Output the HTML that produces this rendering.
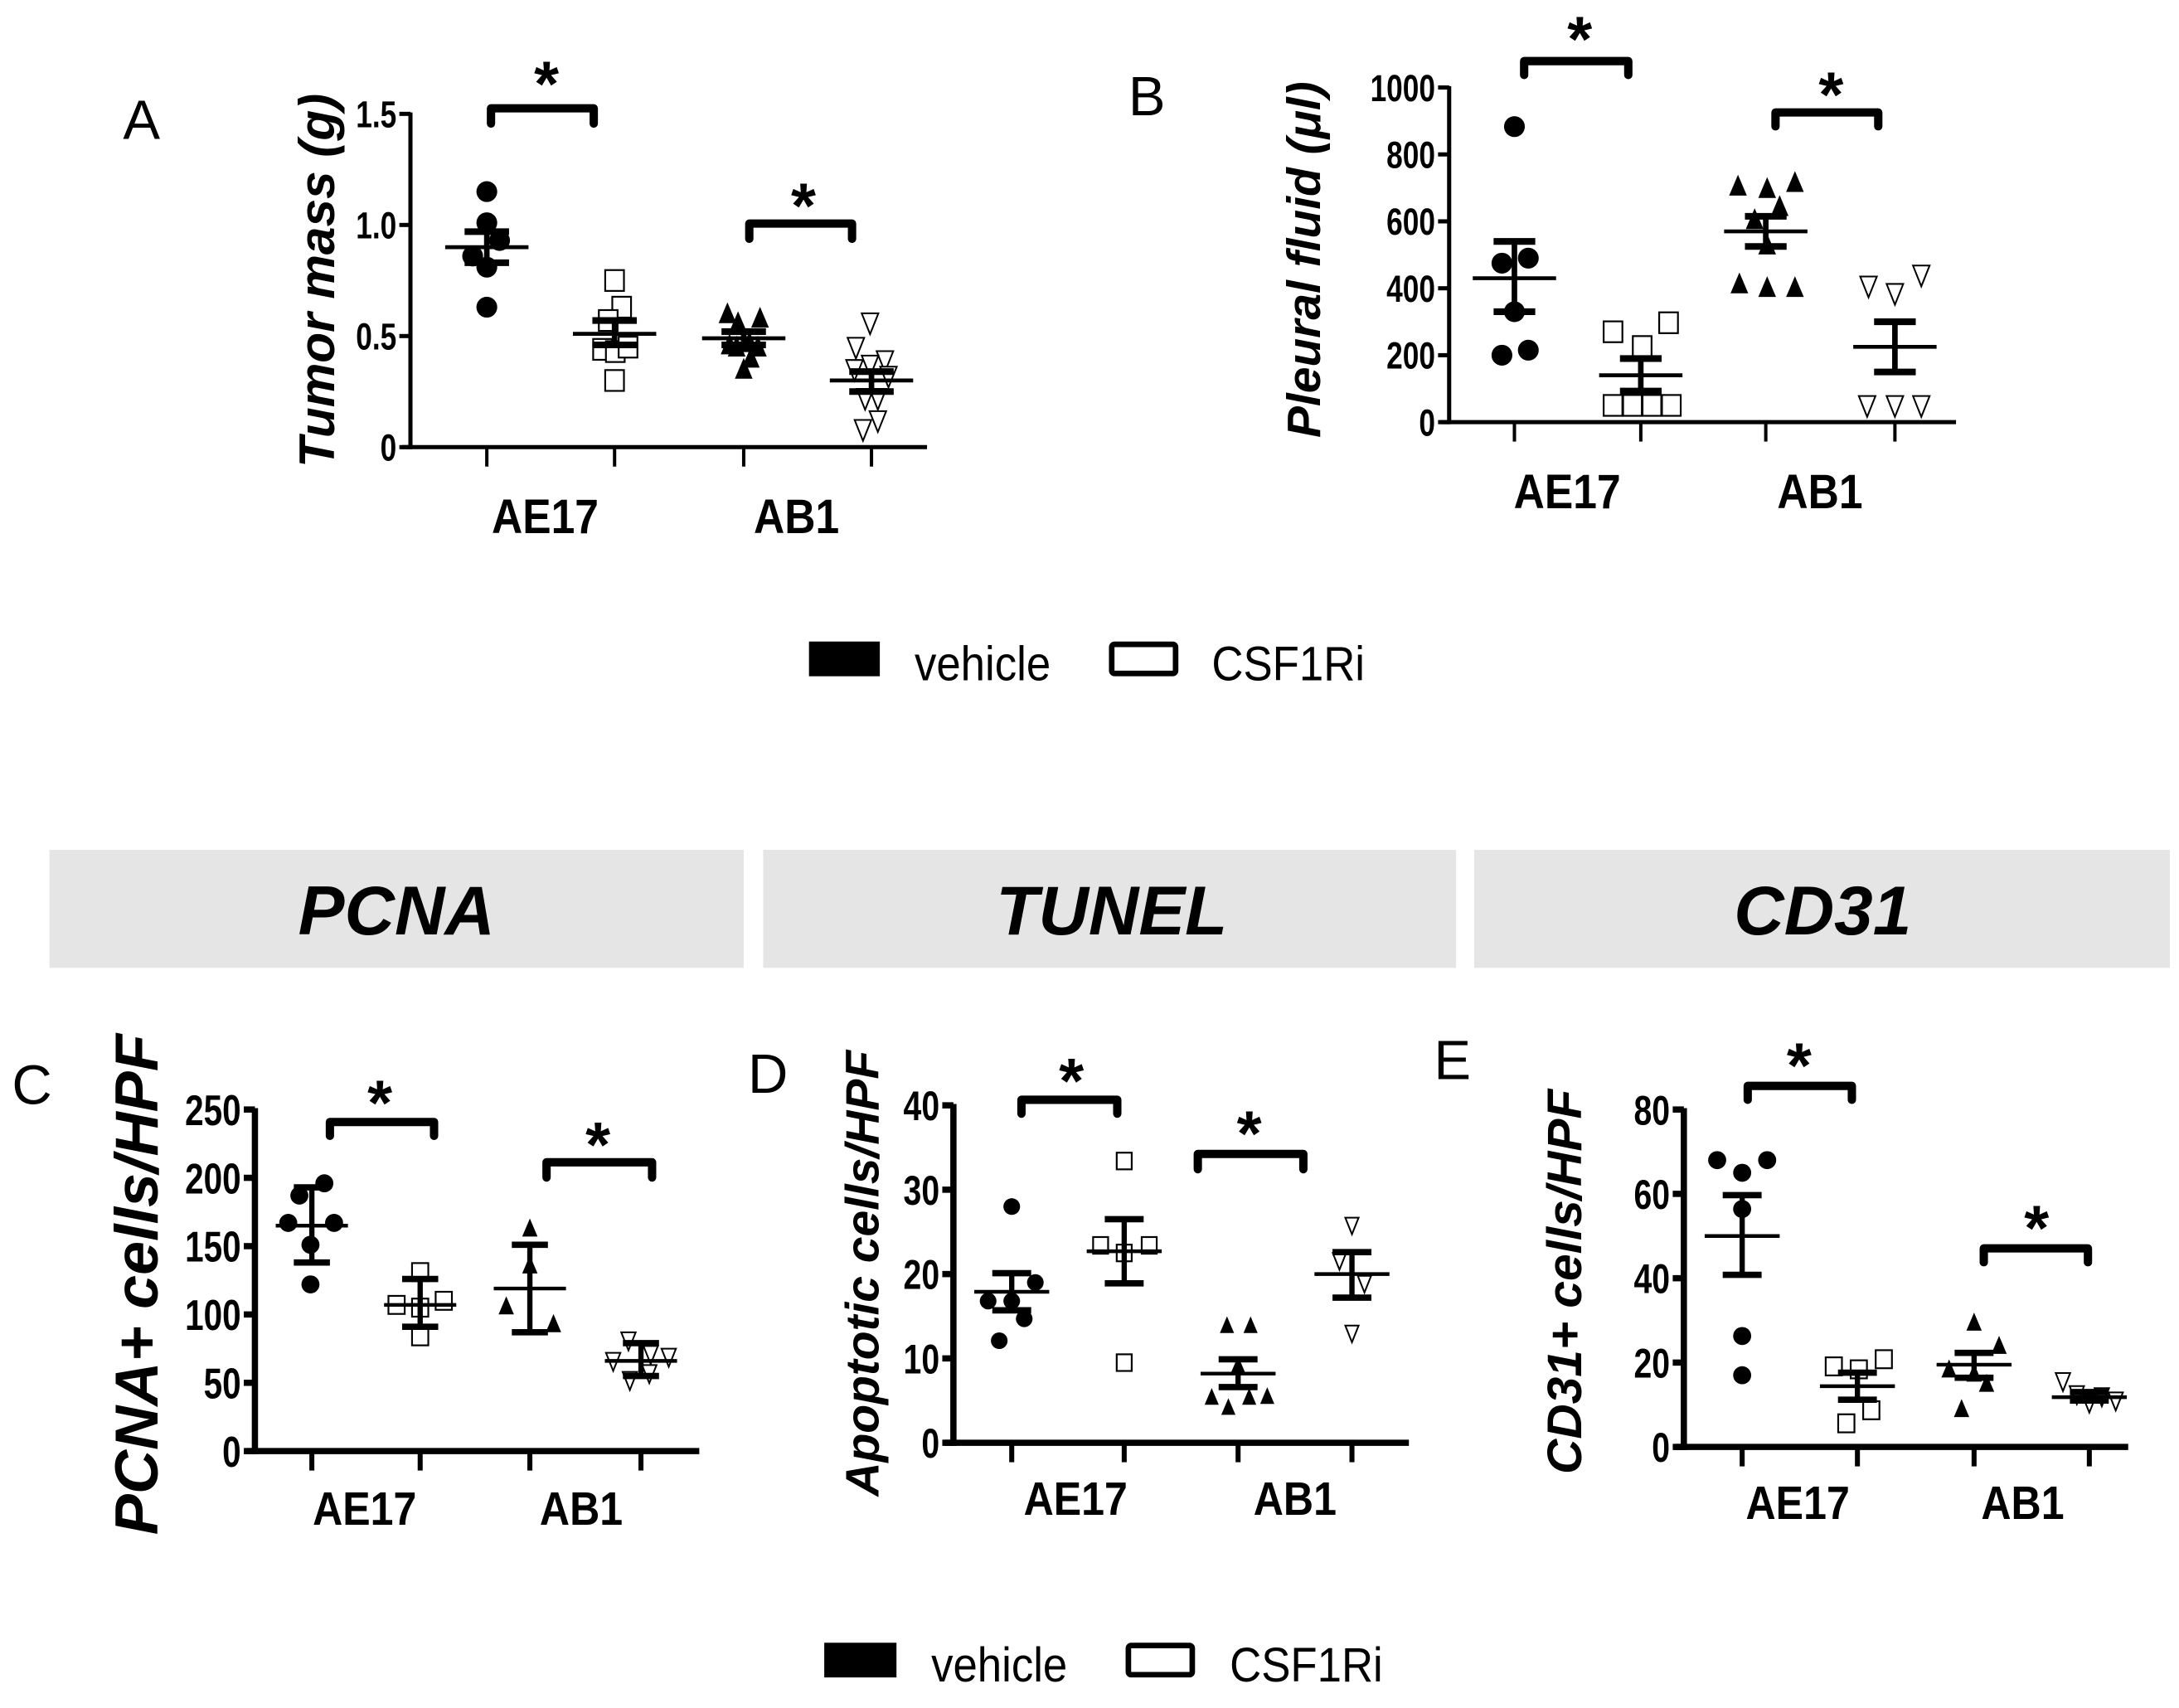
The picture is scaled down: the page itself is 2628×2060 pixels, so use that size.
<!DOCTYPE html>
<html><head><meta charset="utf-8"><style>
html,body{margin:0;padding:0;background:#fff;}
svg{display:block;}
text{font-family:"Liberation Sans",Arial,sans-serif;fill:#000;}
</style></head><body>
<svg id="fig" xmlns="http://www.w3.org/2000/svg" width="2628" height="2060" viewBox="0 0 1568 1230">
<rect x="0" y="0" width="1568" height="1230" fill="#fff"/>
<g>
  <rect x="582" y="462" width="51" height="25" fill="#000"/>
  <text x="0" y="0" font-size="35" transform="translate(658,490) scale(0.9,1)">vehicle</text>
  <rect x="800" y="464" width="46" height="21" rx="2" fill="#fff" stroke="#000" stroke-width="4"/>
  <text x="0" y="0" font-size="35" transform="translate(872,490) scale(0.9,1)">CSF1Ri</text>
</g>
<g>
  <rect x="35" y="612" width="500" height="85" fill="#e5e5e5"/>
  <text x="285" y="673" font-size="50" font-weight="bold" font-style="italic" text-anchor="middle">PCNA</text>
  <rect x="549" y="612" width="499" height="85" fill="#e5e5e5"/>
  <text x="800" y="673" font-size="50" font-weight="bold" font-style="italic" text-anchor="middle">TUNEL</text>
  <rect x="1061" y="612" width="501" height="85" fill="#e5e5e5"/>
  <text x="1312" y="673" font-size="50" font-weight="bold" font-style="italic" text-anchor="middle">CD31</text>
</g>
<g>
  <rect x="593" y="1183" width="52" height="25" fill="#000"/>
  <text x="0" y="0" font-size="35" transform="translate(670,1211) scale(0.9,1)">vehicle</text>
  <rect x="812" y="1185" width="46" height="21" rx="2" fill="#fff" stroke="#000" stroke-width="4"/>
  <text x="0" y="0" font-size="35" transform="translate(885,1211) scale(0.9,1)">CSF1Ri</text>
</g>
</svg>
<script>
// ---- data ----
const categories = ["AE17", "AB1"];
const groups = ["vehicle", "CSF1Ri"];
// Panel A: tumor mass (g)
const aTicks = [0, 0.5, 1.0, 1.5];
const aTickLabels = ["0", "0.5", "1.0", "1.5"];
const aVals = [[1.15,1.01,0.93,0.86,0.81,0.63],[0.75,0.63,0.57,0.44,0.43,0.45,0.30],[0.60,0.56,0.58,0.46,0.45,0.47,0.45,0.40,0.35],[0.56,0.45,0.39,0.37,0.35,0.32,0.22,0.22,0.12,0.08]];
const aJit = [[0,0,18,-20,0,0],[0,10,-9,-17,1,19,0],[-23,-8,23,-20,-10,8,20,10,0],[-2,-22,19,-2,-24,24,-9,9,9,-12]];
const aMean = [0.90,0.51,0.49,0.30];
const aHi = [0.97,0.57,0.52,0.34];
const aLo = [0.83,0.46,0.46,0.25];
// Panel B: pleural fluid (ul)
const bTicks = [0,200,400,600,800,1000];
const bTickLabels = ["0","200","400","600","800","1000"];
const bVals = [[883,490,475,330,200,215],[297,270,226,50,50,50,50],[705,698,716,644,605,529,413,402,402],[440,407,385,50,50,50]];
const bJit = [[0,10,-9,0,-9,10],[20,-20,1,-20,-6,8,22],[-20,1,21,10,-8,1,-19,1,21],[19,-19,0,-20,0,19]];
const bMean = [430,140,570,225];
const bHi = [540,190,615,300];
const bLo = [330,93,525,150];
// Panel C: PCNA+ cells/HPF
const cTicks = [0,50,100,150,200,250];
const cTickLabels = ["0","50","100","150","200","250"];
const cVals = [[196,187,167,167,151,122],[131,107,105,110,84],[163,136,106,93],[81,71,69,66,57,52]];
const cJit = [[9,-9,-17,16,-1,-1],[0,-17,0,17,0],[0,0,-17,17],[-9,7,20,-20,6,-8]];
const cMean = [165,107,119,66];
const cHi = [193,126,151,79];
const cLo = [138,91,87,55];
// Panel D: apoptotic cells/HPF
const dTicks = [0,10,20,30,40];
const dTickLabels = ["0","10","20","30","40"];
const dVals = [[28,19,16.8,16.8,14.7,12.1],[33.4,23.4,23.4,22.5,9.5],[13.9,13.9,9.2,5.4,5.4,5.5,4.2],[25.8,21.6,18.9,13.0]];
const dJit = [[0,17,-17,0,9,-9],[0,-17,18,0,0],[-8,9,0,-19,8,21,-7],[0,-9,9,0]];
const dMean = [17.9,22.7,8.2,20];
const dHi = [20.1,26.5,9.9,22.6];
const dLo = [15.7,18.9,6.6,17.2];
// Panel E: CD31+ cells/HPF
const eTicks = [0,20,40,60,80];
const eTickLabels = ["0","20","40","60","80"];
const eVals = [[68,68,65,56.4,26.3,17],[19.1,18.4,20.8,8.7,5.6],[29.5,24,18.4,17.4,15,9],[15.6,12.5,10.5,12,11]];
const eJit = [[-18,18,0,0,0,0],[-17,1,19,10,-8],[0,18,-18,0,9,-9],[-19,-9,0,9,19]];
const eMean = [50,14.4,19.5,11.8];
const eHi = [59.7,17.6,22.3,13];
const eLo = [40.8,11.2,16.4,11];

const NS = "http://www.w3.org/2000/svg";
const svg = document.getElementById("fig");
function mk(tag, attrs, parent, txt) {
  const el = document.createElementNS(NS, tag);
  for (const k in attrs) el.setAttribute(k, attrs[k]);
  if (txt !== undefined) el.textContent = txt;
  (parent || svg).appendChild(el);
  return el;
}
const shapes = ["circle","square","triangle","invtriangle"];

function panel(cfg) {
  const g = mk("g", {});
  
  
  const ymax = cfg.ticks[cfg.ticks.length-1];
  const yS = v => cfg.y0 + (cfg.y1 - cfg.y0) * v / ymax;
  const lt = mk("text", {x: cfg.letter[0], y: cfg.letter[1], "font-size": 40}, g, cfg.letterText);
  
  
  const ya = mk("line", {x1: cfg.ax, y1: cfg.y1 - 1, x2: cfg.ax, y2: cfg.y0 + cfg.aw/2, stroke: "#000", "stroke-width": cfg.aw}, g);
  
  
  const xa = mk("line", {x1: cfg.ax - 6, y1: cfg.y0, x2: cfg.xend, y2: cfg.y0, stroke: "#000", "stroke-width": cfg.aw}, g);
  
  
  cfg.ticks.forEach((t, i) => {
    const y = yS(t);
    const tk = mk("line", {x1: cfg.ax - 8, y1: y, x2: cfg.ax, y2: y, stroke: "#000", "stroke-width": cfg.aw}, g);
    
    
    const tl = mk("text", {x: 0, y: 0, "font-size": cfg.tfs, "font-weight": "bold", "text-anchor": "end", transform: `translate(${cfg.ax - 10},${y + cfg.tfs*0.36}) scale(0.78,1)`}, g, cfg.tickLabels[i]);
    
    
  });
  cfg.cx.forEach(x => {
    const tk = mk("line", {x1: x, y1: cfg.y0, x2: x, y2: cfg.y0 + 14, stroke: "#000", "stroke-width": cfg.aw*0.8}, g);
    
    
  });
  categories.forEach((c, i) => {
    const cl = mk("text", {x: 0, y: 0, "font-size": cfg.cfs, "font-weight": "bold", "text-anchor": "middle", transform: `translate(${cfg.catX[i]},${cfg.catY}) scale(0.88,1)`}, g, c);
    
    
  });
  const yt = mk("text", {x: 0, y: 0, "font-size": cfg.yfs, "font-weight": "bold", "font-style": "italic", "text-anchor": "middle", transform: `translate(${cfg.yTitle[0]},${cfg.yTitle[1]}) rotate(-90)`}, g, cfg.yTitleText);
  
  
  const r = cfg.ms;
  cfg.vals.forEach((arr, gi) => {
    const sh = shapes[gi];
    arr.forEach((v, j) => {
      const x = cfg.cx[gi] + cfg.jit[gi][j] * cfg.js;
      const y = yS(v);
      let el;
      if (sh === "circle") el = mk("ellipse", {cx: x, cy: y, rx: r, ry: r, fill: "#000"}, g);
      else if (sh === "square") el = mk("rect", {x: x - r*0.9, y: y - r, width: r*1.8, height: r*2, fill: "#fff", stroke: "#000", "stroke-width": 1.3}, g);
      else if (sh === "triangle") el = mk("polygon", {points: `${x},${y-r*1.1} ${x-r*0.85},${y+r*0.9} ${x+r*0.85},${y+r*0.9}`, fill: "#000"}, g);
      else el = mk("polygon", {points: `${x},${y+r*1.1} ${x-r*0.8},${y-r*0.9} ${x+r*0.8},${y-r*0.9}`, fill: "#fff", stroke: "#000", "stroke-width": 1.2}, g);
      
      
    });
    const x = cfg.cx[gi];
    const m = mk("line", {x1: x - cfg.mw, y1: yS(cfg.mean[gi]), x2: x + cfg.mw, y2: yS(cfg.mean[gi]), stroke: "#000", "stroke-width": cfg.ew*0.7}, g);
    
    
    const eb = mk("line", {x1: x, y1: yS(cfg.hi[gi]), x2: x, y2: yS(cfg.lo[gi]), stroke: "#000", "stroke-width": cfg.ew}, g);
    
    
    [cfg.hi[gi], cfg.lo[gi]].forEach(v => {
      const cp = mk("line", {x1: x - cfg.cw, y1: yS(v), x2: x + cfg.cw, y2: yS(v), stroke: "#000", "stroke-width": cfg.ew*1.2}, g);
      
      
    });
  });
  cfg.brackets.forEach(b => {
    const [x1, x2, yt2, yl, sx, sy] = b;
    const p = mk("path", {d: `M${x1},${yl} L${x1},${yt2} L${x2},${yt2} L${x2},${yl}`, fill: "none", stroke: "#000", "stroke-width": cfg.bw, "stroke-linejoin": "round", "stroke-linecap": "round"}, g);
    
    
    const s = mk("text", {x: sx, y: sy + 24, "font-size": 46, "font-weight": "bold", "text-anchor": "middle"}, g, "*");
    
    
  });
}

panel({name: "panel-a-tumor-mass", letterText: "A", letter: [88, 100], ticks: aTicks, tickLabels: aTickLabels,
  ax: 295, xend: 667, y0: 322, y1: 82, aw: 3, tfs: 27, cx: [350, 442, 535, 627], catX: [392, 573], catY: 384, cfs: 35,
  yTitle: [240, 202], yTitleText: "Tumor mass (g)", yfs: 36, vals: aVals, jit: aJit, js: 0.51, ms: 7.5,
  mean: aMean, hi: aHi, lo: aLo, mw: 30, cw: 16, ew: 4,
  brackets: [[353, 427, 78, 89, 393, 52], [539, 613, 161, 172, 578, 140]], bw: 6});
panel({name: "panel-b-pleural-fluid", letterText: "B", letter: [812, 83], ticks: bTicks, tickLabels: bTickLabels,
  ax: 1043, xend: 1408, y0: 304, y1: 63, aw: 3, tfs: 27, cx: [1090, 1181, 1271, 1364], catX: [1128, 1310], catY: 366, cfs: 35,
  yTitle: [950, 187], yTitleText: "Pleural fluid (\u03bcl)", yfs: 34, vals: bVals, jit: bJit, js: 1, ms: 7.5,
  mean: bMean, hi: bHi, lo: bLo, mw: 30, cw: 15, ew: 4,
  brackets: [[1097, 1172, 44, 54, 1137, 20], [1278, 1352, 81, 91, 1318, 60]], bw: 6});
panel({name: "panel-c-pcna", letterText: "C", letter: [8, 795], ticks: cTicks, tickLabels: cTickLabels,
  ax: 183, xend: 503, y0: 1045, y1: 799, aw: 4.5, tfs: 31, cx: [224, 302, 381, 461], catX: [262, 418], catY: 1098, cfs: 34,
  yTitle: [113, 925], yTitleText: "PCNA+ cells/HPF", yfs: 44, vals: cVals, jit: cJit, js: 1, ms: 6.5,
  mean: cMean, hi: cHi, lo: cLo, mw: 26, cw: 13, ew: 3.8,
  brackets: [[237, 312, 808, 818, 273, 786], [393, 469, 837, 848, 430, 816]], bw: 6});
panel({name: "panel-d-tunel", letterText: "D", letter: [538, 787], ticks: dTicks, tickLabels: dTickLabels,
  ax: 686, xend: 1014, y0: 1039, y1: 796, aw: 4.5, tfs: 30, cx: [728, 809, 891, 973], catX: [774, 932], catY: 1091, cfs: 34,
  yTitle: [632, 917], yTitleText: "Apoptotic cells/HPF", yfs: 34, vals: dVals, jit: dJit, js: 1, ms: 6,
  mean: dMean, hi: dHi, lo: dLo, mw: 27, cw: 14, ew: 3.8,
  brackets: [[735, 804, 792, 802, 771, 770], [862, 938, 831, 842, 899, 808]], bw: 6});
panel({name: "panel-e-cd31", letterText: "E", letter: [1032, 777], ticks: eTicks, tickLabels: eTickLabels,
  ax: 1212, xend: 1532, y0: 1042, y1: 799, aw: 4.5, tfs: 30, cx: [1254, 1337, 1421, 1504], catX: [1294, 1456], catY: 1094, cfs: 34,
  yTitle: [1138, 923], yTitleText: "CD31+ cells/HPF", yfs: 35, vals: eVals, jit: eJit, js: 1, ms: 6.5,
  mean: eMean, hi: eHi, lo: eLo, mw: 27, cw: 14, ew: 3.8,
  brackets: [[1258, 1333, 782, 792, 1295, 759], [1428, 1503, 899, 909, 1466, 876]], bw: 6});
</script>
</body></html>
